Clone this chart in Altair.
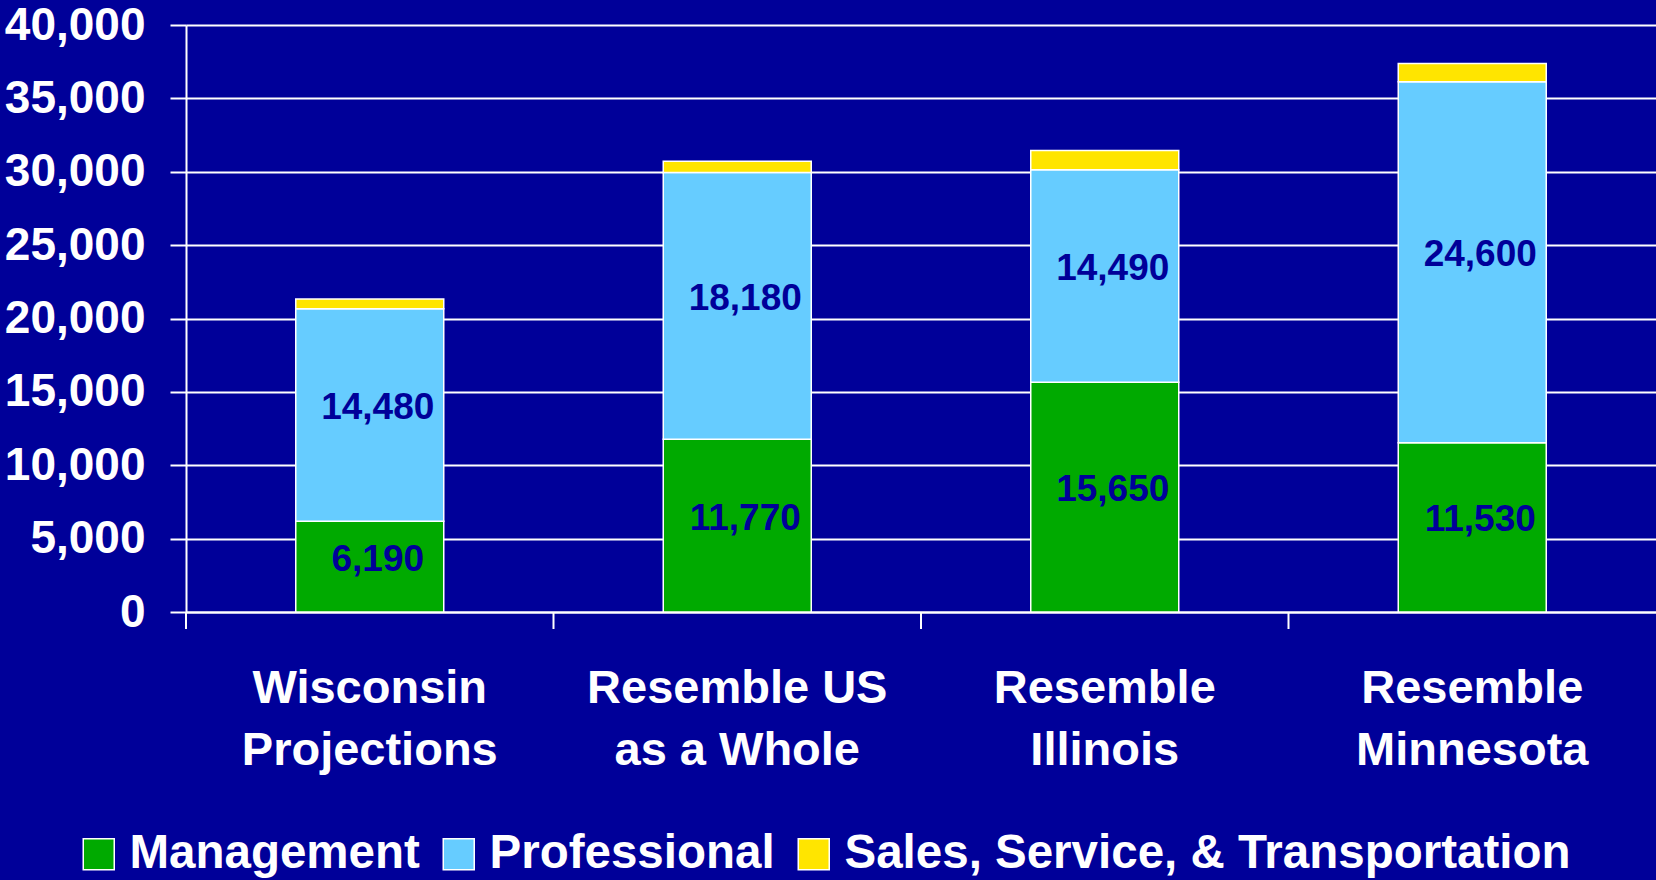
import altair as alt
import pandas as pd

categories = ["Wisconsin\nProjections", "Resemble US\nas a Whole", "Resemble\nIllinois", "Resemble\nMinnesota"]
series = ["Management", "Professional", "Sales, Service, & Transportation"]
management = [6190, 11770, 15650, 11530]
professional = [14480, 18180, 14490, 24600]
sales = [660, 760, 1300, 1250]
y_ticks = [0, 5000, 10000, 15000, 20000, 25000, 30000, 35000, 40000]
colors = ["#00AA00", "#66CCFF", "#FFE500"]

rows = []
for i, c in enumerate(categories):
    for k, (s, vals) in enumerate(zip(series, [management, professional, sales])):
        rows.append({"cat": c, "series": s, "value": vals[i], "ord": k})
df = pd.DataFrame(rows)
df_cats = pd.DataFrame({"cat": categories})

FONT = "Liberation Sans"
NAVY = "#000099"

xscale = alt.Scale(domain=categories, paddingInner=0, paddingOuter=0)

x_axis = alt.Axis(labelExpr="split(datum.label, '\\n')", labelAngle=0,
                  labelFont=FONT, labelFontWeight="bold", labelFontSize=47,
                  labelColor="white", labelLineHeight=62, labelPadding=53,
                  labelLimit=500, ticks=False, domainColor="white",
                  domainWidth=2, grid=False, bandPosition=0.5)
y_axis = alt.Axis(values=y_ticks, labelExpr="format(datum.value, ',.0f')",
                  grid=True, gridColor="white",
                  gridWidth=2, domainColor="white", domainWidth=2,
                  tickColor="white", tickWidth=2, tickSize=16,
                  labelFont=FONT, labelFontWeight="bold", labelFontSize=46,
                  labelColor="white", labelPadding=25)

bars = alt.Chart(df).mark_bar(size=148, stroke="white", strokeWidth=1.5).encode(
    x=alt.X("cat:N", sort=categories, scale=xscale, title=None, axis=x_axis),
    y=alt.Y("value:Q", stack="zero", title=None,
            scale=alt.Scale(domain=[0, 40000], nice=False), axis=y_axis),
    color=alt.Color("series:N", scale=alt.Scale(domain=series, range=colors),
                    legend=alt.Legend(title=None, orient="none", direction="horizontal",
                                      legendX=-111, legendY=805, symbolType="square",
                                      symbolSize=961, symbolStrokeColor="white",
                                      symbolStrokeWidth=1.5, labelFont=FONT,
                                      labelFontWeight="bold", labelFontSize=47.5,
                                      labelColor="white", labelLimit=800,
                                      columnPadding=15, labelOffset=7, padding=0,
                                      symbolOpacity=1)),
    order=alt.Order("ord:Q"),
)

labels = alt.Chart(df).transform_stack(
    stack="value", groupby=["cat"], as_=["y0", "y1"], sort=[alt.SortField("ord")]
).transform_filter("datum.ord < 2").transform_calculate(
    mid="(datum.y0 + datum.y1) / 2"
).mark_text(font=FONT, fontWeight="bold", fontSize=37, color=NAVY, dx=8, dy=-7).encode(
    x=alt.X("cat:N", sort=categories, scale=xscale, title=None, axis=x_axis),
    y=alt.Y("mid:Q", title=None, axis=y_axis),
    text=alt.Text("value:Q", format=",.0f"),
)

ticks = alt.Chart(df_cats).mark_rule(color="white", strokeWidth=2).encode(
    x=alt.X("cat:N", sort=categories, scale=xscale, bandPosition=0, title=None, axis=x_axis),
    y=alt.value(587),
    y2=alt.value(604),
)

chart = alt.layer(bars, labels, ticks).properties(
    width=1470, height=587,
    autosize=alt.AutoSizeParams(type="none"),
    padding={"left": 186, "top": 25, "right": 0, "bottom": 268},
    background=NAVY,
).configure_view(stroke=None)

chart.save("out.html", embed_options={"renderer": "svg", "actions": False})
